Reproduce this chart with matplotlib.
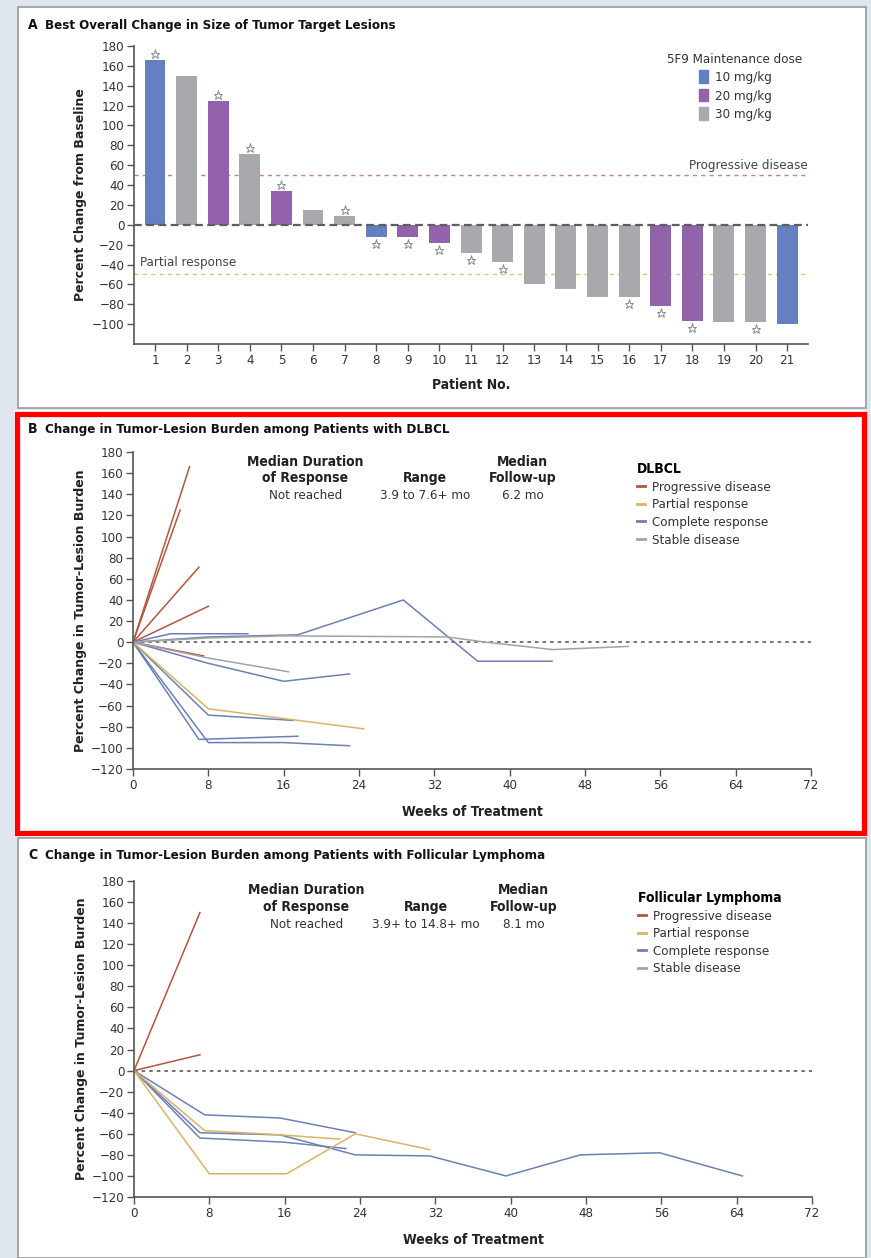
import matplotlib
matplotlib.use("Agg")
import matplotlib.pyplot as plt
from matplotlib.patches import Rectangle, Patch
from matplotlib.lines import Line2D

W, H = 871, 1258
NARROW = {"family": ["DejaVu Sans"], "stretch": "condensed"}
WIDE = {"family": ["DejaVu Sans"]}

# --- Panel A: best overall change per patient ---
patients = list(range(1, 22))
best_change = [166, 150, 125, 71, 34, 15, 9, -12, -12, -18, -28, -37,
               -60, -65, -73, -73, -82, -97, -98, -98, -100]
dose = ["10", "30", "20", "30", "20", "30", "30", "10", "20", "20", "30",
        "30", "30", "30", "30", "30", "20", "20", "30", "30", "10"]
starred = [1, 3, 4, 5, 7, 8, 9, 10, 11, 12, 16, 17, 18, 20]
dose_names = ["10", "20", "30"]
dose_labels = ["10 mg/kg", "20 mg/kg", "30 mg/kg"]

# --- Panel B: DLBCL patients (weeks, % change, response) ---
dlbcl_weeks = [
    [0, 6], [0, 5], [0, 7], [0, 8], [0, 7.5],
    [0, 4, 12.2], [0, 8, 17.5, 28.7, 36.6, 44.5], [0, 8, 16, 23],
    [0, 8, 17], [0, 7, 17.5], [0, 8, 16, 23],
    [0, 8, 24.5],
    [0, 8, 16.5], [0, 8, 16, 33.3, 37.5, 44.6, 52.6],
]
dlbcl_change = [
    [0, 166], [0, 125], [0, 71], [0, 34], [0, -13],
    [0, 8, 8], [0, 5, 7, 40, -18, -18], [0, -20, -37, -30],
    [0, -69, -74], [0, -92, -89], [0, -95, -95, -98],
    [0, -63, -82],
    [0, -15, -28], [0, 4, 6, 5, 0, -7, -4],
]
dlbcl_resp = ["PD"] * 5 + ["CR"] * 6 + ["PR"] + ["SD"] * 2

# --- Panel C: follicular lymphoma patients ---
fl_weeks = [
    [0, 7], [0, 7],
    [0, 7.5, 15.5, 23.5], [0, 7, 15.5, 23.5, 31.4, 39.5, 47.4, 55.8, 64.6],
    [0, 7, 16, 22.5],
    [0, 7.5, 15.5, 21.8], [0, 8, 16.2, 23.5, 31.4],
]
fl_change = [
    [0, 150], [0, 15],
    [0, -42, -45, -59], [0, -59, -61, -80, -81, -100, -80, -78, -100],
    [0, -64, -68, -74],
    [0, -57, -61, -65], [0, -98, -98, -60, -75],
]
fl_resp = ["PD", "PD", "CR", "CR", "CR", "PR", "PR"]

resp_keys = ["PD", "PR", "CR", "SD"]
resp_labels = ["Progressive disease", "Partial response",
               "Complete response", "Stable disease"]

dose_colors = {"10": "#6480c0", "20": "#9263aa", "30": "#a7a9ac"}
resp_colors = {"PD": "#b3563f", "PR": "#dbb464", "CR": "#6d80b6", "SD": "#a3a3a3"}


def px_rect(x0, y0, x1, y1):
    # pixel box (top-left origin) -> figure fraction
    return [x0 / W, 1 - y1 / H, (x1 - x0) / W, (y1 - y0) / H]


def style_axes(ax):
    for s in ("top", "right"):
        ax.spines[s].set_visible(False)
    for s in ("left", "bottom"):
        ax.spines[s].set_color("#555555")
        ax.spines[s].set_linewidth(1.2)
    ax.tick_params(direction="out", length=5, width=1, color="#555555",
                   labelsize=9.5, labelcolor="#333333", pad=2)
    for lab in ax.get_xticklabels() + ax.get_yticklabels():
        lab.set_family(NARROW["family"])
        lab.set_stretch(NARROW["stretch"])
    ax.set_facecolor("none")
    ax.set_zorder(5)


def lesion_panel(fig, rect, letter, title, top_y, weeks, change, resp,
                 range_txt, follow_txt, legend_title):
    ax = fig.add_axes(px_rect(*rect))
    ax.set_xlim(0, 72)
    ax.set_ylim(-120, 180)
    ax.set_xticks(range(0, 73, 8))
    ax.set_yticks(range(-120, 181, 20))
    ax.axhline(0, color="#6a6a6a", lw=1.3, dashes=(2, 2.2))
    for w, c, r in zip(weeks, change, resp):
        ax.plot(w, c, color=resp_colors[r], lw=1.1)
    style_axes(ax)
    ax.set_xlabel("Weeks of Treatment", fontsize=10, fontweight="bold",
                  color="#222222", **NARROW)
    ax.xaxis.set_label_coords(0.5, -0.135)
    ax.xaxis.label.set_va("center")
    ax.set_ylabel("Percent Change in Tumor-Lesion Burden", fontsize=9,
                  fontweight="bold", color="#222222", **WIDE)
    ax.yaxis.set_label_coords(-0.078, 0.5)
    ax.yaxis.label.set_va("center")

    # summary text block
    bold = dict(ha="center", va="center", fontsize=10, fontweight="bold",
                color="#222222", **NARROW)
    norm = dict(ha="center", va="center", fontsize=9.5, color="#333333",
                **NARROW)
    ax.text(18.3, 171, "Median Duration", **bold)
    ax.text(18.3, 155.5, "of Response", **bold)
    ax.text(18.3, 138.5, "Not reached", **norm)
    ax.text(31.0, 155.5, "Range", **bold)
    ax.text(31.0, 138.5, range_txt, **norm)
    ax.text(41.4, 171, "Median", **bold)
    ax.text(41.4, 155.5, "Follow-up", **bold)
    ax.text(41.4, 138.5, follow_txt, **norm)

    handles = [Line2D([], [], color=resp_colors[k], lw=2) for k in resp_keys]
    leg = ax.legend(handles, resp_labels, title=legend_title, loc="upper left",
                    bbox_to_anchor=(0.735, 0.985), frameon=False,
                    handlelength=0.6, handletextpad=0.6, labelspacing=0.35,
                    borderaxespad=0, alignment="left",
                    prop=dict(size=9.5, **NARROW),
                    title_fontproperties=dict(size=10, weight="bold", **NARROW))
    for t in leg.get_texts():
        t.set_color("#333333")

    fig.text(28 / W, 1 - top_y / H, letter, fontsize=10, fontweight="bold",
             va="center", color="#111111", **NARROW)
    fig.text(45 / W, 1 - top_y / H, title, fontsize=9.5, fontweight="bold",
             va="center", color="#111111", **NARROW)
    return ax


def main():
    fig = plt.figure(figsize=(W / 100, H / 100), dpi=100)
    fig.patch.set_facecolor("#dfe6ee")

    # white panel backgrounds (behind the axes)
    fig.patches.append(Rectangle((18 / W, 1 - 408 / H), 848 / W, 401 / H,
                                 transform=fig.transFigure, facecolor="white",
                                 edgecolor="#9a9a9a", lw=1.2, zorder=-2))
    fig.patches.append(Rectangle((14 / W, 1 - 837 / H), 852 / W, 427 / H,
                                 transform=fig.transFigure, facecolor="white",
                                 edgecolor="none", zorder=-2))
    fig.patches.append(Rectangle((18 / W, 0), 848 / W, 1 - 838 / H,
                                 transform=fig.transFigure, facecolor="white",
                                 edgecolor="#9a9a9a", lw=1.2, zorder=-2))

    # ---------------- Panel A ----------------
    axA = fig.add_axes(px_rect(134, 46, 808, 344))
    colors = [dose_colors[d] for d in dose]
    axA.bar(patients, best_change, width=0.66, color=colors, zorder=2)
    axA.set_xlim(0.335, 21.66)
    axA.set_ylim(-120, 180)
    axA.set_xticks(patients)
    axA.set_yticks(range(-100, 181, 20))
    axA.axhline(0, color="#5e5e5e", lw=1.6, dashes=(3.5, 2), zorder=3)
    axA.axhline(50, color="#c08585", lw=1, dashes=(3, 3), zorder=1)
    axA.axhline(-50, color="#d9c57e", lw=1, dashes=(3, 3), zorder=1)
    axA.text(21.66, 60, "Progressive disease", ha="right", va="center",
             fontsize=9.5, color="#444444", **NARROW)
    axA.text(0.53, -38, "Partial response", ha="left", va="center",
             fontsize=9.5, color="#444444", **NARROW)
    for p in starred:
        v = best_change[p - 1]
        yy = v + 6 if v > 0 else v - 7
        axA.plot(p, yy, marker="*", ms=6.5, mfc="white", mec="#8a8a8a",
                 mew=0.7, ls="none", zorder=4)
    style_axes(axA)
    axA.set_xlabel("Patient No.", fontsize=10, fontweight="bold",
                   color="#222222", **NARROW)
    axA.xaxis.set_label_coords(0.5, -0.138)
    axA.xaxis.label.set_va("center")
    axA.set_ylabel("Percent Change from Baseline", fontsize=9,
                   fontweight="bold", color="#222222", **WIDE)
    axA.yaxis.set_label_coords(-0.08, 0.5)
    axA.yaxis.label.set_va("center")
    handles = [Patch(color=dose_colors[d]) for d in dose_names]
    legA = axA.legend(handles, dose_labels, title="5F9 Maintenance dose",
                      loc="upper right", bbox_to_anchor=(1.0, 0.995),
                      frameon=False, handlelength=0.7, handleheight=1.1,
                      handletextpad=0.5, labelspacing=0.35, borderaxespad=0,
                      prop=dict(size=9.5, **NARROW),
                      title_fontproperties=dict(size=9.5, **NARROW))
    legA.get_title().set_color("#333333")
    for t in legA.get_texts():
        t.set_color("#333333")
    fig.text(28 / W, 1 - 25 / H, "A", fontsize=10, fontweight="bold",
             va="center", color="#111111", **NARROW)
    fig.text(45 / W, 1 - 25 / H, "Best Overall Change in Size of Tumor Target Lesions",
             fontsize=9.5, fontweight="bold", va="center",
             color="#111111", **NARROW)

    # ---------------- Panel B ----------------
    lesion_panel(fig, (133, 452, 811, 769), "B",
                 "Change in Tumor-Lesion Burden among Patients with DLBCL", 429,
                 dlbcl_weeks, dlbcl_change, dlbcl_resp,
                 "3.9 to 7.6+ mo", "6.2 mo", "DLBCL")

    # ---------------- Panel C ----------------
    lesion_panel(fig, (134, 881, 812, 1197), "C",
                 "Change in Tumor-Lesion Burden among Patients with Follicular Lymphoma",
                 855, fl_weeks, fl_change, fl_resp,
                 "3.9+ to 14.8+ mo", "8.1 mo", "Follicular Lymphoma")

    # red highlight frame around panel B
    fig.patches.append(Rectangle((16.5 / W, 1 - 833 / H), 847 / W, 419 / H,
                                 transform=fig.transFigure, facecolor="none",
                                 edgecolor="#ff0000", lw=3.8, zorder=10))

    fig.savefig("out.png", dpi=100, facecolor=fig.get_facecolor())


if __name__ == "__main__":
    main()
